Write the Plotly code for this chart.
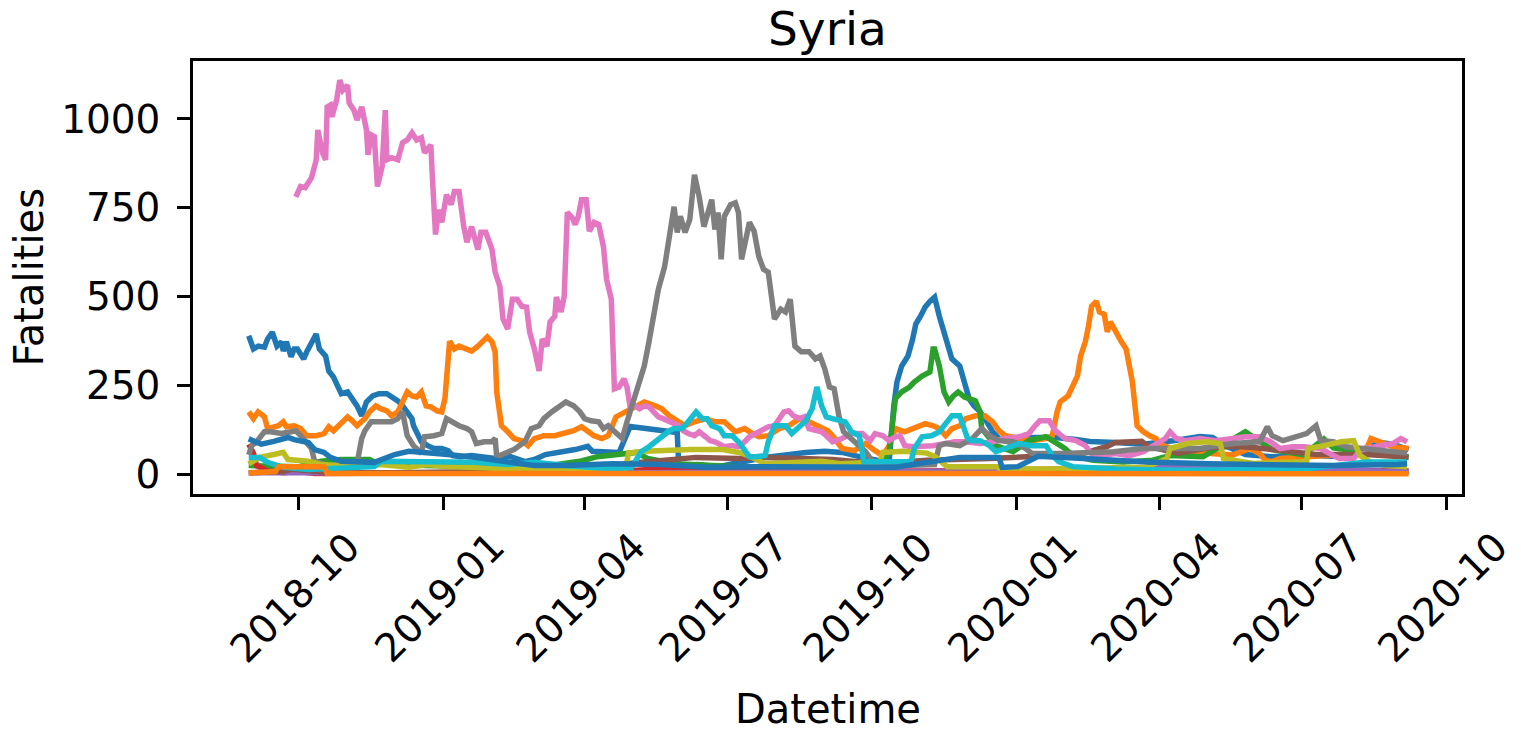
import pandas as pd
import plotly.graph_objects as go

# ---------------- data (x = days from 2018-10-01, y = fatalities) ----------------
START = "2018-10-01"

blueA_d = [-32, -29, -26, -22, -20, -17, -14, -11, -10, -8,
           -5, -3, -1, 3, 5, 8, 11, 13, 15, 17,
           19, 22, 24, 27, 31, 34, 37, 40, 43, 47,
           51, 56, 59, 63, 66, 69, 72, 73, 75, 78,
           82, 86, 91, 95, 98, 103, 110, 116, 120, 125,
           129, 135, 144, 150, 157, 167, 176, 184, 187, 204,
           211, 241, 242, 254, 267, 297, 310, 323, 335, 346,
           359, 371, 376, 379, 381, 384, 388, 391, 393, 396,
           399, 402, 405, 408, 410, 413, 416, 421, 424, 427,
           430, 434, 437, 442, 446, 455, 461, 482, 495, 504,
           520, 538, 557, 574, 582, 591, 603, 620, 640, 665,
           689, 697, 707]
blueA_v = [390, 353, 361, 358, 381, 400, 361, 373, 347, 373,
           331, 353, 353, 325, 345, 367, 395, 353, 345, 333,
           291, 274, 255, 227, 232, 213, 193, 165, 204, 221,
           227, 227, 218, 207, 193, 176, 157, 137, 115, 92,
           81, 73, 73, 67, 53, 50, 53, 50, 45, 45,
           50, 50, 36, 42, 56, 62, 70, 79, 65, 62,
           135, 118, 22, 28, 22, 48, 56, 62, 65, 62,
           48, 37, 34, 193, 260, 305, 333, 381, 423, 445,
           471, 487, 499, 445, 417, 375, 325, 305, 260, 213,
           193, 176, 157, 120, 101, 87, 104, 104, 98, 93,
           90, 85, 95, 107, 104, 79, 56, 50, 55, 50,
           90, 85, 70]

orangeA_d = [-32, -29, -26, -22, -20, -16, -13, -10, -8, -3,
             1, 5, 11, 16, 19, 22, 27, 31, 34, 37,
             42, 45, 49, 52, 56, 59, 63, 66, 69, 72,
             75, 78, 81, 84, 88, 91, 93, 96, 99, 102,
             107, 110, 114, 117, 120, 123, 125, 126, 129, 133,
             137, 142, 146, 150, 156, 163, 169, 175, 180, 185,
             188, 193, 197, 202, 208, 214, 220, 227, 231, 236,
             239, 246, 252, 259, 265, 271, 278, 284, 289, 293,
             299, 306, 312, 319, 325, 331, 337, 340, 346, 354,
             361, 367, 372, 376, 380, 386, 393, 399, 404, 408,
             412, 416, 421, 425, 431, 437, 442, 446, 450, 455,
             459, 467, 476, 480, 483, 485, 490, 493, 496, 498,
             501, 503, 505, 508, 510, 513, 515, 517, 520, 524,
             527, 529, 531, 534, 538, 542, 546, 548, 557, 576,
             595, 606, 612, 616, 620, 625, 640, 659, 679, 683,
             687, 697, 707]
orangeA_v = [176, 157, 176, 162, 129, 134, 137, 148, 134, 137,
             129, 109, 109, 115, 134, 123, 143, 162, 151, 137,
             157, 176, 193, 185, 179, 165, 176, 204, 232, 221,
             218, 232, 193, 190, 179, 176, 213, 375, 353, 361,
             353, 347, 361, 373, 387, 373, 345, 232, 137, 120,
             101, 95, 81, 101, 109, 109, 115, 123, 134, 120,
             109, 101, 109, 162, 176, 190, 204, 193, 185, 165,
             157, 137, 148, 157, 148, 148, 120, 129, 115, 106,
             109, 129, 137, 157, 148, 137, 123, 109, 73, 67,
             87, 67, 53, 81, 129, 120, 134, 143, 137, 129,
             109, 129, 137, 157, 165, 165, 148, 123, 109, 106,
             101, 95, 101, 109, 176, 204, 221, 249, 277, 333,
             373, 417, 473, 487, 457, 451, 401, 429, 403, 373,
             353, 305, 260, 137, 120, 109, 101, 87, 70, 60,
             55, 73, 59, 39, 36, 45, 50, 55, 60, 101,
             95, 78, 73]

green_d = [-32, 0, 14, 27, 45, 50, 80, 120, 160, 180,
           190, 205, 215, 222, 240, 280, 320, 360, 370, 376,
           378, 380, 384, 389, 392, 397, 402, 404, 405, 408,
           411, 414, 417, 420, 424, 428, 431, 434, 435, 444,
           455, 465, 476, 480, 488, 493, 506, 525, 544, 555,
           576, 603, 608, 620, 640, 653, 659, 683, 707]
green_v = [25, 22, 37, 42, 42, 30, 25, 22, 25, 38,
           50, 58, 62, 45, 30, 22, 20, 22, 20, 64,
           137, 213, 232, 246, 260, 277, 288, 353, 353, 305,
           232, 204, 221, 232, 218, 213, 207, 176, 129, 81,
           64, 95, 106, 95, 73, 53, 40, 35, 40, 53,
           50, 120, 106, 70, 55, 100, 75, 60, 50]

red_d = [-32, -29, -27, -20, -10, 0, 10, 50, 100, 200, 230, 260, 300, 400, 500, 560, 600, 650, 707]
red_v = [85, 60, 25, 10, 5, 8, 3, 5, 5, 8, 15, 10, 8, 10, 15, 20, 15, 12, 10]

purple_d = [-32, 100, 200, 300, 400, 500, 550, 600, 707]
purple_v = [5, 3, 5, 6, 8, 12, 20, 15, 8]

brown_d = [-32, -10, -5, 5, 20, 60, 100, 140, 200, 208,
           225, 240, 253, 280, 295, 320, 340, 370, 380, 400,
           440, 460, 470, 500, 515, 520, 537, 541, 560, 580,
           595, 608, 627, 648, 680, 707]
brown_v = [5, 8, 15, 10, 5, 5, 8, 10, 12, 30,
           37, 40, 48, 45, 48, 45, 42, 30, 34, 40,
           45, 48, 51, 60, 79, 90, 93, 79, 60, 75,
           79, 76, 65, 56, 56, 48]

pink_d = [-2, 1, 4, 6, 8, 11, 12, 15, 17, 18,
          20, 21, 24, 26, 28, 31, 32, 35, 37, 40,
          43, 44, 46, 48, 50, 53, 55, 56, 59, 63,
          66, 69, 72, 75, 78, 80, 84, 85, 87, 89,
          91, 94, 97, 99, 102, 105, 107, 110, 114, 116,
          119, 123, 125, 128, 130, 133, 136, 139, 142, 145,
          147, 150, 153, 155, 158, 160, 163, 164, 167, 169,
          171, 174, 176, 178, 180, 183, 185, 188, 191, 194,
          196, 199, 201, 204, 207, 209, 211, 214, 217, 220,
          223, 226, 229, 232, 236, 239, 242, 245, 248, 252,
          255, 259, 262, 265, 268, 271, 276, 280, 284, 287,
          291, 295, 299, 303, 306, 309, 312, 315, 319, 322,
          325, 329, 333, 336, 340, 346, 352, 359, 364, 367,
          372, 376, 380, 383, 386, 391, 397, 404, 412, 418,
          425, 434, 442, 450, 459, 465, 469, 472, 478, 482,
          488, 495, 501, 506, 512, 520, 529, 538, 552, 555,
          559, 565, 574, 584, 595, 603, 612, 619, 625, 633,
          640, 651, 659, 663, 672, 676, 680, 689, 697, 702, 706]
pink_v = [781, 810, 807, 824, 835, 885, 969, 905, 885, 1034,
          1039, 1006, 1053, 1109, 1081, 1095, 1045, 1025, 997, 1034,
          969, 899, 955, 950, 810, 866, 1025, 885, 891, 885,
          933, 941, 961, 941, 947, 905, 927, 838, 675, 745,
          709, 787, 759, 796, 796, 697, 653, 697, 633, 681,
          681, 633, 569, 529, 437, 409, 493, 493, 473, 470,
          400, 353, 291, 381, 361, 429, 445, 499, 457, 501,
          737, 723, 703, 726, 773, 773, 684, 709, 703, 641,
          549, 493, 241, 246, 269, 246, 190, 193, 185, 193,
          190, 176, 162, 157, 148, 143, 137, 123, 115, 109,
          120, 106, 95, 92, 87, 78, 81, 78, 92, 106,
          115, 123, 134, 137, 157, 176, 179, 165, 157, 162,
          129, 123, 120, 109, 92, 101, 115, 115, 95, 115,
          109, 95, 106, 109, 81, 78, 78, 81, 87, 92,
          92, 87, 92, 101, 106, 115, 137, 151, 151, 123,
          101, 95, 81, 53, 53, 59, 53, 64, 101, 120,
          101, 95, 101, 95, 101, 106, 106, 92, 73, 78,
          78, 73, 53, 45, 45, 67, 73, 81, 87, 101, 92]

gray_d = [-32, -30, -27, -22, -18, -11, -5, -2, 1, 4,
          8, 10, 20, 37, 40, 42, 46, 52, 59, 63,
          66, 69, 73, 78, 80, 86, 91, 94, 97, 102,
          107, 110, 113, 118, 123, 125, 126, 131, 137, 144,
          148, 153, 156, 161, 165, 170, 175, 179, 182, 186,
          191, 194, 197, 201, 206, 209, 212, 216, 220, 223,
          226, 229, 233, 236, 239, 241, 243, 246, 249, 252,
          255, 258, 261, 263, 265, 267, 269, 271, 275, 278,
          280, 282, 287, 290, 293, 296, 299, 303, 307, 310,
          313, 316, 320, 325, 329, 332, 335, 338, 341, 344,
          347, 352, 357, 361, 365, 369, 384, 405, 408, 412,
          421, 429, 435, 440, 446, 455, 463, 467, 487, 519,
          538, 549, 574, 595, 612, 617, 620, 627, 635, 642,
          648, 651, 659, 667, 684, 706]
gray_v = [55, 81, 92, 120, 120, 115, 120, 123, 109, 92,
          73, 36, 25, 31, 101, 123, 148, 148, 148, 157,
          176, 109, 81, 59, 106, 109, 115, 157, 148, 137,
          129, 120, 87, 92, 92, 101, 50, 59, 70, 92,
          129, 137, 157, 176, 190, 204, 193, 176, 157, 151,
          148, 129, 137, 120, 101, 148, 193, 241, 305, 373,
          457, 521, 585, 669, 753, 681, 726, 681, 717, 843,
          781, 697, 745, 773, 689, 737, 605, 726, 759, 764,
          737, 605, 709, 684, 613, 577, 569, 437, 465, 457,
          493, 361, 345, 345, 325, 333, 297, 246, 241, 165,
          120, 101, 81, 64, 39, 28, 25, 28, 81, 87,
          81, 101, 129, 109, 95, 92, 73, 59, 59, 64,
          73, 73, 73, 87, 92, 134, 109, 95, 106, 115,
          137, 95, 92, 78, 70, 60]

olive_d = [-32, -25, -16, -10, -7, 6, 14, 35, 52, 70,
           82, 95, 120, 150, 170, 190, 208, 210, 220, 250,
           270, 282, 288, 297, 333, 345, 370, 372, 385, 400,
           405, 413, 445, 446, 480, 540, 553, 555, 566, 578,
           587, 589, 608, 642, 643, 653, 664, 672, 676, 684,
           693, 706]
olive_v = [30, 48, 56, 62, 42, 37, 28, 22, 28, 20,
           28, 22, 18, 15, 12, 15, 15, 60, 65, 70,
           70, 60, 50, 30, 37, 30, 35, 62, 65, 60,
           51, 22, 22, 17, 15, 20, 45, 73, 87, 92,
           87, 45, 31, 36, 73, 81, 92, 95, 53, 31,
           25, 22]

cyan_d = [-32, -25, -20, -10, 6, 48, 52, 70, 91, 112,
          133, 150, 170, 200, 212, 214, 218, 223, 227, 231,
          236, 239, 244, 247, 250, 253, 257, 260, 263, 268,
          271, 276, 280, 284, 287, 291, 297, 299, 303, 306,
          310, 314, 319, 323, 327, 330, 333, 336, 340, 346,
          348, 352, 357, 360, 390, 392, 397, 403, 408, 412,
          416, 421, 423, 426, 429, 434, 440, 444, 450, 459,
          467, 476, 480, 484, 493, 520, 560, 600, 640, 680,
          706]
cyan_v = [48, 48, 34, 20, 14, 22, 37, 37, 37, 34,
          28, 34, 25, 15, 20, 36, 64, 78, 92, 109,
          123, 129, 129, 143, 157, 176, 157, 157, 137, 129,
          109, 109, 92, 64, 50, 50, 53, 92, 137, 137,
          137, 115, 137, 151, 185, 246, 193, 162, 157, 151,
          148, 120, 109, 36, 36, 73, 106, 109, 120, 143,
          165, 165, 137, 101, 95, 95, 81, 64, 73, 87,
          81, 81, 53, 36, 22, 15, 12, 12, 15, 35,
          35]

blueB_d = [-32, -24, -16, -7, -3, 6, 10, 16, 20, 27,
           48, 61, 70, 82, 95, 112, 133, 150, 170, 200,
           230, 260, 290, 330, 360, 380, 400, 421, 446, 448,
           458, 471, 500, 540, 580, 620, 660, 700, 706]
blueB_v = [100, 85, 93, 104, 98, 90, 70, 62, 48, 37,
           34, 56, 65, 62, 56, 48, 37, 25, 25, 30,
           28, 20, 22, 20, 22, 20, 34, 48, 48, 20,
           22, 51, 45, 35, 30, 28, 25, 28, 30]

orangeB_d = [-32, -15, -13, 16, 18, 707]
orangeB_v = [4, 8, 22, 22, 3, 2]

y_ticks = [0, 250, 500, 750, 1000]
x_tick_dates = ["2018-10-01", "2019-01-01", "2019-04-01", "2019-07-01", "2019-10-01",
                "2020-01-01", "2020-04-01", "2020-07-01", "2020-10-01"]
x_tick_labels = ["2018-10", "2019-01", "2019-04", "2019-07", "2019-10",
                 "2020-01", "2020-04", "2020-07", "2020-10"]

title_text = "Syria"
x_title = "Datetime"
y_title = "Fatalities"

# ---------------- styling ----------------
TAB10 = {"blue": "#1f77b4", "orange": "#ff7f0e", "green": "#2ca02c", "red": "#d62728",
         "purple": "#9467bd", "brown": "#8c564b", "pink": "#e377c2", "gray": "#7f7f7f",
         "olive": "#bcbd22", "cyan": "#17becf"}

series = [
    ("blueA", blueA_d, blueA_v, TAB10["blue"]),
    ("orangeA", orangeA_d, orangeA_v, TAB10["orange"]),
    ("green", green_d, green_v, TAB10["green"]),
    ("red", red_d, red_v, TAB10["red"]),
    ("purple", purple_d, purple_v, TAB10["purple"]),
    ("brown", brown_d, brown_v, TAB10["brown"]),
    ("pink", pink_d, pink_v, TAB10["pink"]),
    ("gray", gray_d, gray_v, TAB10["gray"]),
    ("olive", olive_d, olive_v, TAB10["olive"]),
    ("cyan", cyan_d, cyan_v, TAB10["cyan"]),
    ("blueB", blueB_d, blueB_v, TAB10["blue"]),
    ("orangeB", orangeB_d, orangeB_v, TAB10["orange"]),
]

start = pd.Timestamp(START)
FONT = "DejaVu Sans"

fig = go.Figure()
for name, d, v, color in series:
    assert len(d) == len(v), name
    x = [start + pd.Timedelta(days=int(k)) for k in d]
    fig.add_trace(go.Scatter(x=x, y=v, mode="lines", name=name,
                             line=dict(color=color, width=5.5),
                             showlegend=False, hoverinfo="skip"))

axis_common = dict(ticks="outside", ticklen=13, tickwidth=2.5, tickcolor="black",
                   showline=True, linewidth=2.5, linecolor="black", mirror=True,
                   showgrid=False, zeroline=False)

fig.update_xaxes(type="date", range=["2018-07-25 12:00", "2020-10-11"],
                 tickvals=x_tick_dates, showticklabels=False, **axis_common)
fig.update_yaxes(range=[-55, 1163], tickvals=y_ticks,
                 ticktext=[str(t) for t in y_ticks],
                 tickfont=dict(family=FONT, size=39, color="black"),
                 ticklabelstandoff=9, **axis_common)

annotations = []
for dt, lab in zip(x_tick_dates, x_tick_labels):
    annotations.append(dict(x=dt, y=-0.062, xref="x", yref="paper", text=lab,
                            textangle=-45, showarrow=False, xanchor="center", yanchor="top",
                            xshift=-4,
                            font=dict(family=FONT, size=39, color="black")))
annotations.append(dict(x=0.5, y=-0.4965, xref="paper", yref="paper", text=x_title,
                        showarrow=False, xanchor="center", yanchor="middle",
                        font=dict(family=FONT, size=40, color="black")))
annotations.append(dict(x=-0.1300, y=0.5, xref="paper", yref="paper", text=y_title,
                        textangle=-90, showarrow=False, xanchor="center", yanchor="middle",
                        borderpad=0,
                        font=dict(family=FONT, size=40, color="black")))
annotations.append(dict(x=0.5, y=494 / 433, xref="paper", yref="paper", text=title_text,
                        showarrow=False, xanchor="center", yanchor="top", borderpad=0,
                        font=dict(family=FONT, size=47, color="black")))

fig.update_layout(width=1521, height=734,
                  margin=dict(l=193, r=59, t=61, b=240, pad=0),
                  paper_bgcolor="white", plot_bgcolor="white",
                  font=dict(family=FONT, size=39, color="black"),
                  showlegend=False, annotations=annotations)

fig.write_html("out.html", config={"displayModeBar": False},
               post_script="document.body.style.margin='0px';document.body.style.overflow='hidden';")
